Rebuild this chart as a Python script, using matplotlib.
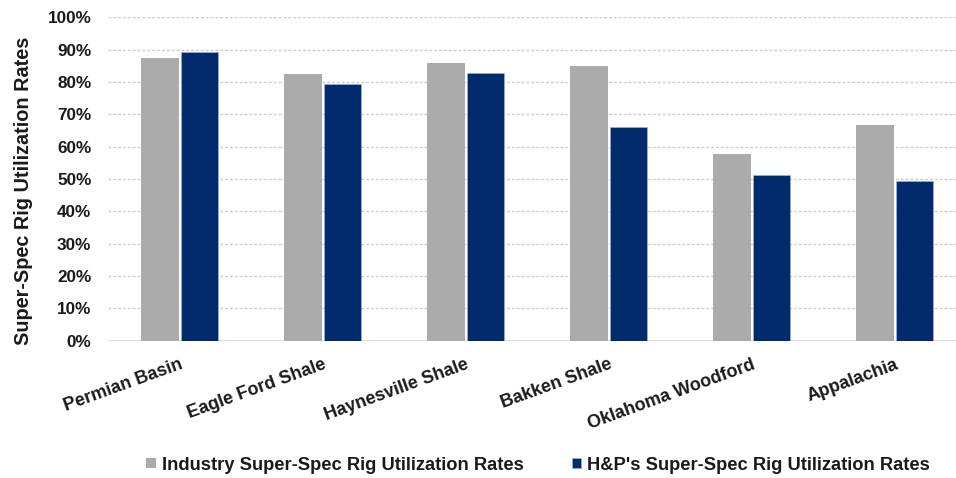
import numpy as np
import matplotlib.pyplot as plt
from matplotlib.ticker import PercentFormatter

plt.rcParams['font.family'] = ['Liberation Sans', 'DejaVu Sans']

basins = ['Permian Basin', 'Eagle Ford Shale', 'Haynesville Shale',
          'Bakken Shale', 'Oklahoma Woodford', 'Appalachia']
industry = [87.3, 82.5, 85.7, 84.8, 57.7, 66.8]
hp = [89.2, 79.4, 82.9, 66.2, 51.2, 49.4]

gray = '#ABABAB'
navy = '#022B6D'

fig = plt.figure(figsize=(9.56, 4.78), dpi=100)
ax = fig.add_axes([0.113, 0.287, 0.887, 0.677])

x = np.arange(len(basins))
w = 0.26
ax.bar(x - w / 2 - 0.007, industry, w, color=gray, label='Industry Super-Spec Rig Utilization Rates', zorder=3)
ax.bar(x + w / 2 + 0.007, hp, w, color=navy, edgecolor='#9DB8E0', linewidth=0.4,
       label="H&P's Super-Spec Rig Utilization Rates", zorder=3)

ax.set_ylim(0, 100)
ax.set_xlim(-0.5, 5.43)
ax.set_yticks(np.arange(0, 101, 10))
ax.yaxis.set_major_formatter(PercentFormatter(decimals=0))
ax.grid(axis='y', color='#CCCCCC', linestyle=(0, (2, 1.5)), linewidth=1.0, zorder=0)
ax.axhline(0, color='#D9D9D9', linewidth=1.2, zorder=2)

for s in ax.spines.values():
    s.set_visible(False)
ax.tick_params(axis='both', length=0)
ax.tick_params(axis='y', labelsize=12.3, pad=12)

for lab in ax.get_yticklabels():
    lab.set_fontweight('bold')
    lab.set_color('#1A1A1A')

ax.set_xticks(x)
ax.set_xticklabels(basins, rotation=20, ha='right', rotation_mode='anchor',
                   fontsize=13, fontweight='bold', color='#1A1A1A')
ax.tick_params(axis='x', pad=11)

ax.set_ylabel('Super-Spec Rig Utilization Rates', fontsize=14.3, fontweight='bold',
              color='#1A1A1A')
ax.yaxis.set_label_coords(-0.089, 0.465)

leg = fig.legend(loc='center', bbox_to_anchor=(0.563, 0.027), ncol=2, frameon=False,
                 handlelength=0.5, handleheight=0.5, handletextpad=0.35, columnspacing=2.6,
                 prop={'size': 13.2, 'weight': 'bold'})
for t in leg.get_texts():
    t.set_color('#1A1A1A')

fig.savefig('out.png', dpi=100)
